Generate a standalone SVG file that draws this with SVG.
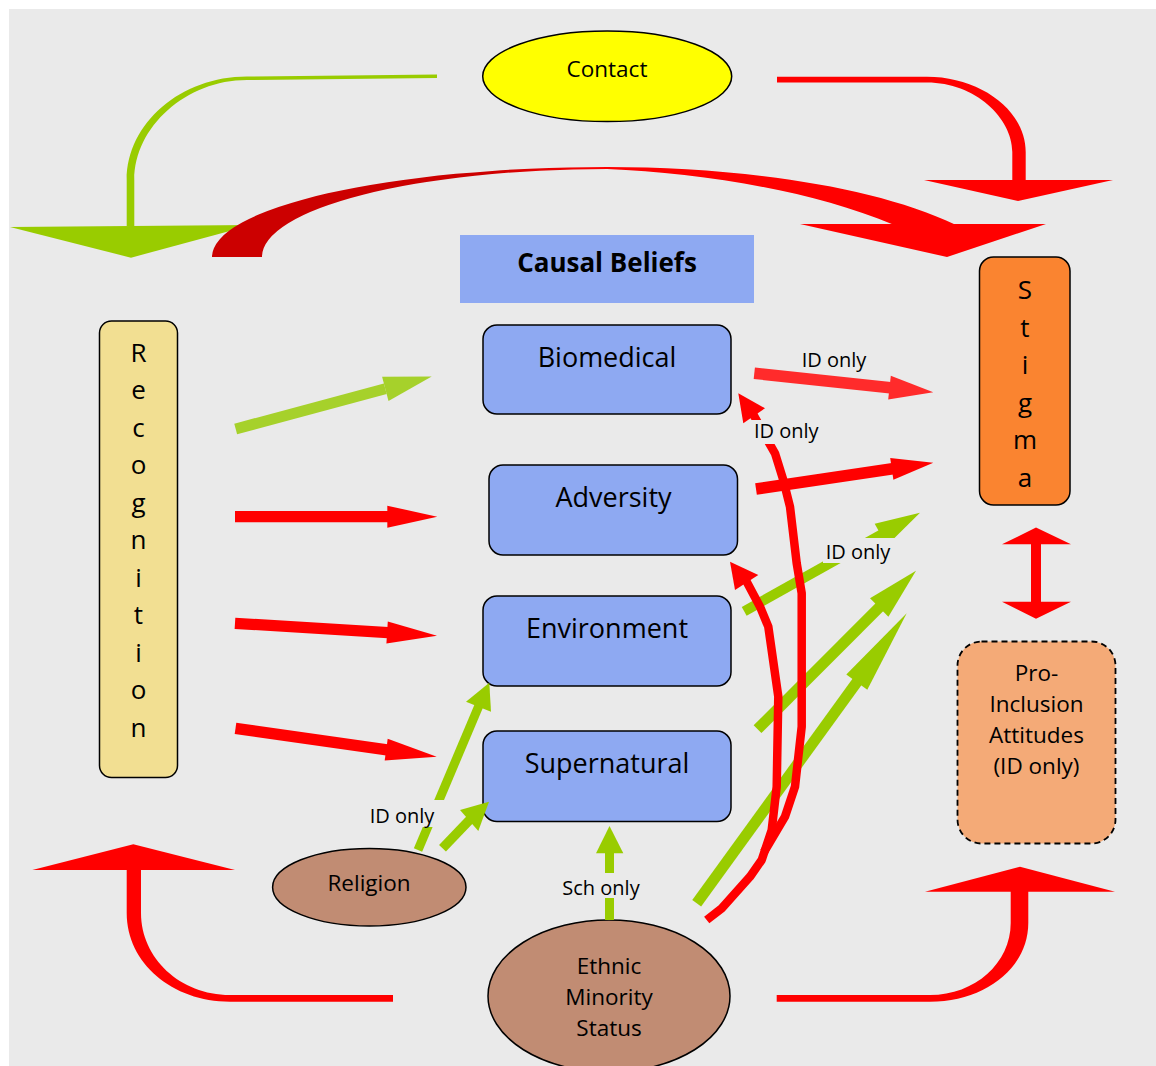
<svg xmlns="http://www.w3.org/2000/svg" width="1156" height="1066" viewBox="0 0 1156 1066">
<defs>
<style>
text { font-family: "Open Sans", "Noto Sans", "Liberation Sans", sans-serif; fill: #000000; }
.box { fill: #8EA9F2; stroke: #000000; stroke-width: 1.5; }
.t27 { font-size: 27px; text-anchor: middle; }
.t26 { font-size: 26px; text-anchor: middle; }
.t22 { font-size: 22.5px; text-anchor: middle; }
.lbl { font-size: 20px; text-anchor: middle; }
.lblbg { fill: #EAEAEA; }
.red { fill: #FF0000; }
.grn { fill: #99CC00; }
.rs { stroke: #FF0000; fill: none; }
.gs { stroke: #99CC00; fill: none; }
.brown { fill: #C18C73; stroke: #000000; stroke-width: 1.5; }
</style>
<linearGradient id="arcGrad" gradientUnits="userSpaceOnUse" x1="212" y1="0" x2="1046" y2="0">
<stop offset="0" stop-color="#CC0000"/>
<stop offset="0.33" stop-color="#CC0000"/>
<stop offset="0.47" stop-color="#FF0000"/>
<stop offset="1" stop-color="#FF0000"/>
</linearGradient>
</defs>

<rect x="0" y="0" width="1156" height="1066" fill="#FFFFFF"/>
<rect x="9" y="9" width="1147" height="1057" fill="#EAEAEA"/>

<g id="node-contact">
<ellipse cx="607.2" cy="76.3" rx="124.5" ry="45.3" fill="#FFFF00" stroke="#000000" stroke-width="1.5"/>
<text class="t22" x="607" y="76.5">Contact</text>
</g>

<g id="node-causal-beliefs">
<rect x="460" y="235" width="294" height="68" fill="#8EA9F2"/>
<text x="607" y="272" font-size="26" font-weight="bold" text-anchor="middle">Causal Beliefs</text>
</g>

<g id="node-biomedical">
<rect class="box" x="483" y="325" width="248" height="89" rx="14"/>
<text class="t27" x="607" y="367">Biomedical</text>
</g>
<g id="node-adversity">
<rect class="box" x="489" y="465" width="248.5" height="90" rx="14"/>
<text class="t27" x="613.5" y="507">Adversity</text>
</g>
<g id="node-environment">
<rect class="box" x="483" y="596" width="248" height="90" rx="14"/>
<text class="t27" x="607" y="638">Environment</text>
</g>
<g id="node-supernatural">
<rect class="box" x="483" y="731" width="248" height="90.5" rx="14"/>
<text class="t27" x="607" y="773">Supernatural</text>
</g>

<g id="node-recognition">
<rect x="99.5" y="321" width="78" height="456.5" rx="12" fill="#F2DF92" stroke="#000000" stroke-width="1.5"/>
<text class="t26" x="138.5" y="361.7">R<tspan x="138.5" dy="37.5">e</tspan><tspan x="138.5" dy="37.5">c</tspan><tspan x="138.5" dy="37.5">o</tspan><tspan x="138.5" dy="37.5">g</tspan><tspan x="138.5" dy="37.5">n</tspan><tspan x="138.5" dy="37.5">i</tspan><tspan x="138.5" dy="37.5">t</tspan><tspan x="138.5" dy="37.5">i</tspan><tspan x="138.5" dy="37.5">o</tspan><tspan x="138.5" dy="37.5">n</tspan></text>
</g>

<g id="node-stigma">
<rect x="979.5" y="257" width="90.5" height="248" rx="14" fill="#FA8430" stroke="#000000" stroke-width="1.5"/>
<text class="t26" x="1025" y="299">S<tspan x="1025" dy="37.5">t</tspan><tspan x="1025" dy="37.5">i</tspan><tspan x="1025" dy="37.5">g</tspan><tspan x="1025" dy="37.5">m</tspan><tspan x="1025" dy="37.5">a</tspan></text>
</g>

<g id="node-pro-inclusion">
<rect x="957.5" y="641.5" width="158" height="202" rx="24" fill="#F4AA77" stroke="#000000" stroke-width="1.8" stroke-dasharray="6 4"/>
<text class="t22" x="1036.5" y="681">Pro-<tspan x="1036.5" y="712">Inclusion</tspan><tspan x="1036.5" y="743">Attitudes</tspan><tspan x="1036.5" y="774">(ID only)</tspan></text>
</g>

<g id="node-religion">
<ellipse class="brown" cx="369.3" cy="887.2" rx="96.7" ry="38.8"/>
<text class="t22" x="369" y="891">Religion</text>
</g>

<g id="node-ethnic">
<ellipse class="brown" cx="609" cy="996" rx="121" ry="76"/>
<text class="t22" x="609" y="974">Ethnic<tspan x="609" y="1005">Minority</tspan><tspan x="609" y="1036">Status</tspan></text>
</g>

<g id="connectors">
<!-- Contact -> Recognition (green curved) -->
<path class="grn" d="M437,74.5 L247,76.5 C181,76.5 126.7,123 126.7,180 L126.7,226 L134.3,226 L134.3,180 C134.3,127 186,80 247,80 L437,78 Z"/>
<polygon class="grn" points="10,227 252,225 131,257.7"/>

<!-- Contact -> Stigma (red curved) -->
<path class="red" d="M777,76.7 L927,76.7 C980,76.7 1025.7,110 1025.7,152 L1025.7,181 L1012.3,181 L1012.3,152 C1012.3,118 975,82.5 927,82.5 L777,82.5 Z"/>
<polygon class="red" points="924,180 1113,180 1018,201"/>

<!-- Recognition -> Stigma (big arc) -->
<path fill="url(#arcGrad)" d="M212,257 A395,90 0 0 1 607,167 C740,167 875,186 955,224.5 L893,224.5 C810,190 700,173 607,169 A345,88 0 0 0 262,257 Z"/>
<polygon class="red" points="800,224 1046,224 947,257"/>

<!-- Recognition -> causal beliefs -->
<line x1="235.7" y1="429" x2="385.3" y2="388.8" stroke="#A6D12B" stroke-width="11"/>
<polygon fill="#A6D12B" points="382.1,376.7 431.7,376.4 388.5,400.9"/>

<line class="rs" x1="235" y1="516.7" x2="388" y2="516.7" stroke-width="11.3"/>
<polygon class="red" points="387.3,505.7 437.3,516.7 387.3,527.7"/>

<line class="rs" x1="235" y1="623.3" x2="388" y2="632.6" stroke-width="11.3"/>
<polygon class="red" points="387.8,621.6 437,635.7 386.4,643.6"/>

<line class="rs" x1="235.5" y1="728.3" x2="387" y2="749.8" stroke-width="11.3"/>
<polygon class="red" points="387.7,738.8 436.7,756.7 384.7,760.6"/>

<!-- Biomedical -> Stigma -->
<line x1="754.3" y1="373.3" x2="890.3" y2="387.8" stroke="#FF2B2B" stroke-width="11.5"/>
<polygon fill="#FF2B2B" points="890.8,375.8 933.3,392.3 888.2,399.6"/>

<!-- Adversity -> Stigma -->
<line class="rs" x1="756" y1="489" x2="892.6" y2="468.8" stroke-width="11.5"/>
<polygon class="red" points="890.2,458 933.3,462.7 893.4,479.8"/>

<!-- Environment -> Stigma (green, ID only) -->
<line class="gs" x1="744.2" y1="611.3" x2="881.6" y2="534.3" stroke-width="10"/>
<polygon class="grn" points="874.7,523.8 920,512.7 886.9,545.6"/>

<!-- Supernatural -> Stigma (green long) -->
<line class="gs" x1="757.5" y1="729.2" x2="880" y2="606.7" stroke-width="11"/>
<polygon class="grn" points="870,598.3 916,570.7 888.4,616.7"/>

<!-- Ethnic -> Stigma (green long) -->
<line class="gs" x1="696.7" y1="903.3" x2="857.5" y2="681.2" stroke-width="11"/>
<polygon class="grn" points="846.3,674.6 906.7,613.3 867.3,689.8"/>

<!-- Ethnic -> Supernatural (Sch only) -->
<line class="gs" x1="609.5" y1="920" x2="609.5" y2="852.5" stroke-width="9"/>
<polygon class="grn" points="596,853.3 609.5,826 623.3,853.3"/>

<!-- Religion -> Environment / Supernatural -->
<line class="gs" x1="418" y1="850" x2="479" y2="705.5" stroke-width="9"/>
<polygon class="grn" points="466,701.7 489.3,682.7 491,711.7"/>
<line class="gs" x1="442.5" y1="848.3" x2="470" y2="819.5" stroke-width="9.5"/>
<polygon class="grn" points="460,810 489,801.7 478.3,831"/>

<!-- Ethnic -> Adversity / Biomedical (red curves) -->
<polyline class="rs" stroke-width="8.5" stroke-linejoin="round" points="706.7,920 721.7,908.3 750,876.7 761.7,860 771.7,830 776.7,786.7 778.3,696.7 768.3,626.7 760,606.7 745.5,579.5"/>
<polygon class="red" points="730,561.7 735,590 758.3,575"/>
<polyline class="rs" stroke-width="8.5" stroke-linejoin="round" points="764,852 785,816.7 795,786.7 801.7,726.7 801.7,593.3 796.7,563.3 790,506.7 783.3,480 775,453.3 768.3,441.7 752.5,413"/>
<polygon class="red" points="738.3,393.3 743.3,423.3 765,408.3"/>

<!-- Stigma <-> Pro-Inclusion -->
<polygon class="red" points="1036,527.5 1071,544.3 1041,544.3 1041,601.7 1071,601.7 1036,618.7 1002,601.7 1031,601.7 1031,544.3 1002,544.3"/>

<!-- Ethnic -> Recognition (red curved) -->
<path class="red" d="M126.7,870 L126.7,913 C126.7,963 172,1001.7 230,1001.7 L393,1001.7 L393,995 L230,995 C180,995 141,958 141,913 L141,870 Z"/>
<polygon class="red" points="32.3,870 235,870 133.3,844.3"/>

<!-- Ethnic -> Pro-Inclusion (red curved) -->
<path class="red" d="M1028.3,891 L1028.3,923 C1028.3,968 985,1001.7 930,1001.7 L776.7,1001.7 L776.7,995 L930,995 C975,995 1010.7,963 1010.7,923 L1010.7,891 Z"/>
<polygon class="red" points="925,891.7 1115,891.7 1020,866.7"/>

<!-- labels -->
<g id="label-bio-stigma"><text class="lbl" x="834" y="366.7">ID only</text></g>
<g id="label-ethnic-bio"><rect class="lblbg" x="751" y="420" width="71" height="24"/><text class="lbl" x="786.3" y="438.3">ID only</text></g>
<g id="label-env-stigma"><rect class="lblbg" x="823" y="538" width="73" height="25"/><text class="lbl" x="858" y="559.3">ID only</text></g>
<g id="label-religion-env"><rect class="lblbg" x="366" y="800" width="78" height="27"/><text class="lbl" x="402" y="823.3">ID only</text></g>
<g id="label-sch"><rect class="lblbg" x="560" y="873" width="82" height="25"/><text class="lbl" x="601" y="895">Sch only</text></g>
</g>
</svg>
